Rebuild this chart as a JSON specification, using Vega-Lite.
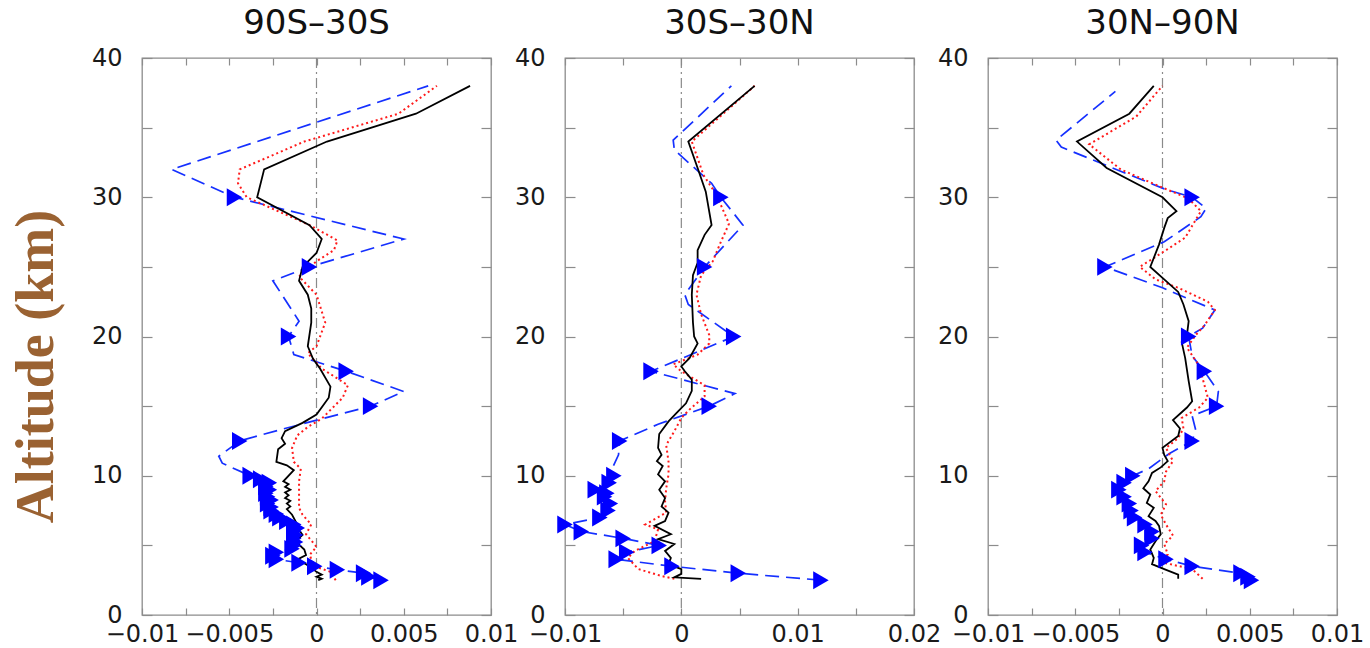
{
"$schema": "https://vega.github.io/schema/vega-lite/v6.json",
"padding": {"left": 8, "top": 6, "right": 5, "bottom": 5},
"spacing": 74,
"bounds": "flush",
"resolve": {"scale": {"x": "independent"}},
"config": {
  "view": {"stroke": "#8c8c8c", "strokeWidth": 1.3},
  "axis": {"domain": false, "grid": false, "tickColor": "#8c8c8c", "tickWidth": 1.2, "labelFont": "DejaVu Sans", "labelFontSize": 24, "labelColor": "#1a1a1a", "labelFlush": false, "labelOverlap": false, "labelBound": false},
  "title": {"font": "DejaVu Sans", "fontSize": 34, "fontWeight": "normal", "color": "#111111", "offset": 5, "anchor": "middle"}
},
"datasets": {
"d": [
{"p":1,"s":"k","a":38,"v":0.0088},{"p":1,"s":"k","a":36,"v":0.0057},{"p":1,"s":"k","a":34,"v":0.0006},{"p":1,"s":"k","a":32,"v":-0.003},{"p":1,"s":"k","a":30,"v":-0.0034},{"p":1,"s":"k","a":28,"v":-0.0004},{"p":1,"s":"k","a":27,"v":0.0003},{"p":1,"s":"k","a":26,"v":0.0},{"p":1,"s":"k","a":25,"v":-0.0008},{"p":1,"s":"k","a":24,"v":-0.001},{"p":1,"s":"k","a":23,"v":-0.0005},{"p":1,"s":"k","a":22,"v":-0.0003},{"p":1,"s":"k","a":21,"v":-0.0003},{"p":1,"s":"k","a":19.3,"v":-0.0005},{"p":1,"s":"k","a":18.4,"v":-0.0002},{"p":1,"s":"k","a":17.7,"v":0.0002},{"p":1,"s":"k","a":16.4,"v":0.0008},{"p":1,"s":"k","a":15.6,"v":0.0007},{"p":1,"s":"k","a":14.4,"v":0.0},{"p":1,"s":"k","a":13.8,"v":-0.0008},{"p":1,"s":"k","a":13.2,"v":-0.0018},{"p":1,"s":"k","a":12.7,"v":-0.002},{"p":1,"s":"k","a":12.3,"v":-0.0018},{"p":1,"s":"k","a":11.9,"v":-0.0022},{"p":1,"s":"k","a":11.0,"v":-0.0023},{"p":1,"s":"k","a":10.75,"v":-0.0017},{"p":1,"s":"k","a":10.4,"v":-0.0013},{"p":1,"s":"k","a":9.6,"v":-0.0019},{"p":1,"s":"k","a":9.4,"v":-0.0016},{"p":1,"s":"k","a":9.2,"v":-0.0018},{"p":1,"s":"k","a":9.0,"v":-0.0015},{"p":1,"s":"k","a":8.8,"v":-0.0018},{"p":1,"s":"k","a":8.6,"v":-0.0016},{"p":1,"s":"k","a":8.4,"v":-0.0018},{"p":1,"s":"k","a":8.2,"v":-0.0015},{"p":1,"s":"k","a":8.0,"v":-0.0017},{"p":1,"s":"k","a":7.8,"v":-0.0015},{"p":1,"s":"k","a":7.6,"v":-0.0017},{"p":1,"s":"k","a":7.2,"v":-0.0014},{"p":1,"s":"k","a":6.5,"v":-0.0011},{"p":1,"s":"k","a":6.1,"v":-0.001},{"p":1,"s":"k","a":5.76,"v":-0.0008},{"p":1,"s":"k","a":5.4,"v":-0.0011},{"p":1,"s":"k","a":5.05,"v":-0.001},{"p":1,"s":"k","a":4.7,"v":-0.0007},{"p":1,"s":"k","a":4.3,"v":-0.0006},{"p":1,"s":"k","a":4.05,"v":-0.001},{"p":1,"s":"k","a":3.85,"v":-0.0009},{"p":1,"s":"k","a":3.5,"v":-0.0004},{"p":1,"s":"k","a":3.1,"v":0.0},{"p":1,"s":"k","a":2.9,"v":0.0003},{"p":1,"s":"k","a":2.75,"v":0.0},{"p":1,"s":"k","a":2.6,"v":0.0003},{"p":1,"s":"k","a":2.5,"v":0.0001},
{"p":1,"s":"r","a":38,"v":0.0069},{"p":1,"s":"r","a":36,"v":0.0047},{"p":1,"s":"r","a":34,"v":-0.0007},{"p":1,"s":"r","a":32,"v":-0.0044},{"p":1,"s":"r","a":31,"v":-0.0045},{"p":1,"s":"r","a":30,"v":-0.004},{"p":1,"s":"r","a":28,"v":-0.0004},{"p":1,"s":"r","a":26.9,"v":0.0012},{"p":1,"s":"r","a":26.2,"v":0.001},{"p":1,"s":"r","a":25.4,"v":0.0},{"p":1,"s":"r","a":24.3,"v":-0.001},{"p":1,"s":"r","a":23,"v":0.0},{"p":1,"s":"r","a":21,"v":0.0005},{"p":1,"s":"r","a":19.3,"v":0.0},{"p":1,"s":"r","a":18.8,"v":-0.0005},{"p":1,"s":"r","a":17.7,"v":0.0003},{"p":1,"s":"r","a":16.5,"v":0.0018},{"p":1,"s":"r","a":15.6,"v":0.0015},{"p":1,"s":"r","a":14.1,"v":0.0003},{"p":1,"s":"r","a":13.5,"v":-0.0005},{"p":1,"s":"r","a":12.9,"v":-0.0011},{"p":1,"s":"r","a":12,"v":-0.0014},{"p":1,"s":"r","a":11,"v":-0.0013},{"p":1,"s":"r","a":10.5,"v":-0.0009},{"p":1,"s":"r","a":9.6,"v":-0.001},{"p":1,"s":"r","a":8.6,"v":-0.001},{"p":1,"s":"r","a":7.7,"v":-0.001},{"p":1,"s":"r","a":7.2,"v":-0.0008},{"p":1,"s":"r","a":6.5,"v":-0.0003},{"p":1,"s":"r","a":5.8,"v":-0.0006},{"p":1,"s":"r","a":4.9,"v":0.0},{"p":1,"s":"r","a":4.3,"v":-0.0004},{"p":1,"s":"r","a":3.5,"v":-0.0001},{"p":1,"s":"r","a":3.1,"v":0.0008},{"p":1,"s":"r","a":2.5,"v":0.0011},
{"p":1,"s":"b","a":38,"v":0.0064},{"p":1,"s":"b","a":32,"v":-0.0083},{"p":1,"s":"b","a":30,"v":-0.0047},{"p":1,"s":"b","a":27,"v":0.005},{"p":1,"s":"b","a":25,"v":-0.0004},{"p":1,"s":"b","a":24,"v":-0.0025},{"p":1,"s":"b","a":21.1,"v":-0.001},{"p":1,"s":"b","a":20,"v":-0.0016},{"p":1,"s":"b","a":18.7,"v":-0.0013},{"p":1,"s":"b","a":17.5,"v":0.0017},{"p":1,"s":"b","a":16.05,"v":0.005},{"p":1,"s":"b","a":15,"v":0.0031},{"p":1,"s":"b","a":13.3,"v":-0.0021},{"p":1,"s":"b","a":12.5,"v":-0.0044},{"p":1,"s":"b","a":11.4,"v":-0.0056},{"p":1,"s":"b","a":10.9,"v":-0.0054},{"p":1,"s":"b","a":10,"v":-0.0038},{"p":1,"s":"b","a":9.75,"v":-0.0032},{"p":1,"s":"b","a":9.5,"v":-0.0027},{"p":1,"s":"b","a":9.25,"v":-0.0029},{"p":1,"s":"b","a":9.0,"v":-0.0027},{"p":1,"s":"b","a":8.75,"v":-0.0029},{"p":1,"s":"b","a":8.5,"v":-0.0028},{"p":1,"s":"b","a":8.25,"v":-0.0026},{"p":1,"s":"b","a":8.0,"v":-0.0028},{"p":1,"s":"b","a":7.75,"v":-0.0026},{"p":1,"s":"b","a":7.5,"v":-0.0026},{"p":1,"s":"b","a":7.25,"v":-0.0023},{"p":1,"s":"b","a":7.0,"v":-0.0021},{"p":1,"s":"b","a":6.75,"v":-0.0017},{"p":1,"s":"b","a":6.5,"v":-0.0013},{"p":1,"s":"b","a":6.25,"v":-0.0011},{"p":1,"s":"b","a":6.0,"v":-0.0013},{"p":1,"s":"b","a":5.75,"v":-0.0012},{"p":1,"s":"b","a":5.5,"v":-0.0013},{"p":1,"s":"b","a":5.25,"v":-0.0012},{"p":1,"s":"b","a":5.0,"v":-0.0013},{"p":1,"s":"b","a":4.75,"v":-0.0014},{"p":1,"s":"b","a":4.5,"v":-0.0023},{"p":1,"s":"b","a":4.25,"v":-0.0025},{"p":1,"s":"b","a":4.0,"v":-0.0023},{"p":1,"s":"b","a":3.75,"v":-0.001},{"p":1,"s":"b","a":3.5,"v":-0.0001},{"p":1,"s":"b","a":3.25,"v":0.0012},{"p":1,"s":"b","a":3.0,"v":0.0027},{"p":1,"s":"b","a":2.75,"v":0.003},{"p":1,"s":"b","a":2.5,"v":0.0037},
{"p":2,"s":"k","a":38,"v":0.0063},{"p":2,"s":"k","a":34,"v":0.0006},{"p":2,"s":"k","a":32.1,"v":0.0014},{"p":2,"s":"k","a":30.4,"v":0.0021},{"p":2,"s":"k","a":28,"v":0.0026},{"p":2,"s":"k","a":27.3,"v":0.002},{"p":2,"s":"k","a":26.2,"v":0.0014},{"p":2,"s":"k","a":25.3,"v":0.0014},{"p":2,"s":"k","a":24.4,"v":0.001},{"p":2,"s":"k","a":23,"v":0.0009},{"p":2,"s":"k","a":21,"v":0.001},{"p":2,"s":"k","a":20,"v":0.0011},{"p":2,"s":"k","a":19.5,"v":0.0014},{"p":2,"s":"k","a":18.45,"v":0.0007},{"p":2,"s":"k","a":17.85,"v":0.0},{"p":2,"s":"k","a":17.5,"v":0.0003},{"p":2,"s":"k","a":16.9,"v":0.0009},{"p":2,"s":"k","a":16.1,"v":0.0009},{"p":2,"s":"k","a":15.2,"v":0.0004},{"p":2,"s":"k","a":14.6,"v":-0.0003},{"p":2,"s":"k","a":13.9,"v":-0.0011},{"p":2,"s":"k","a":13,"v":-0.0019},{"p":2,"s":"k","a":12,"v":-0.002},{"p":2,"s":"k","a":11.5,"v":-0.0017},{"p":2,"s":"k","a":11.05,"v":-0.0021},{"p":2,"s":"k","a":10.7,"v":-0.0016},{"p":2,"s":"k","a":10.1,"v":-0.002},{"p":2,"s":"k","a":9.6,"v":-0.0014},{"p":2,"s":"k","a":9.0,"v":-0.0019},{"p":2,"s":"k","a":8.4,"v":-0.0014},{"p":2,"s":"k","a":7.8,"v":-0.0017},{"p":2,"s":"k","a":7.35,"v":-0.0011},{"p":2,"s":"k","a":6.75,"v":-0.0014},{"p":2,"s":"k","a":6.4,"v":-0.0023},{"p":2,"s":"k","a":5.8,"v":-0.0009},{"p":2,"s":"k","a":5.45,"v":-0.002},{"p":2,"s":"k","a":5.1,"v":-0.0006},{"p":2,"s":"k","a":4.6,"v":-0.0014},{"p":2,"s":"k","a":4.1,"v":-0.0009},{"p":2,"s":"k","a":3.65,"v":-0.0011},{"p":2,"s":"k","a":3.3,"v":0.0},{"p":2,"s":"k","a":2.95,"v":0.0},{"p":2,"s":"k","a":2.7,"v":-0.0006},{"p":2,"s":"k","a":2.6,"v":0.0017},
{"p":2,"s":"r","a":38,"v":0.0063},{"p":2,"s":"r","a":34,"v":0.0009},{"p":2,"s":"r","a":31.6,"v":0.0019},{"p":2,"s":"r","a":30.2,"v":0.003},{"p":2,"s":"r","a":28.1,"v":0.0041},{"p":2,"s":"r","a":26.8,"v":0.0034},{"p":2,"s":"r","a":25.4,"v":0.0027},{"p":2,"s":"r","a":24.4,"v":0.0017},{"p":2,"s":"r","a":23,"v":0.0013},{"p":2,"s":"r","a":21.6,"v":0.0017},{"p":2,"s":"r","a":20.1,"v":0.0024},{"p":2,"s":"r","a":19.5,"v":0.0024},{"p":2,"s":"r","a":18.7,"v":0.0014},{"p":2,"s":"r","a":18,"v":-0.0007},{"p":2,"s":"r","a":17.5,"v":0.0},{"p":2,"s":"r","a":16.5,"v":0.002},{"p":2,"s":"r","a":15.7,"v":0.002},{"p":2,"s":"r","a":14.75,"v":0.0007},{"p":2,"s":"r","a":14.15,"v":0.0},{"p":2,"s":"r","a":13.2,"v":-0.0006},{"p":2,"s":"r","a":12.2,"v":-0.0013},{"p":2,"s":"r","a":11,"v":-0.0011},{"p":2,"s":"r","a":10.1,"v":-0.0011},{"p":2,"s":"r","a":9.1,"v":-0.0013},{"p":2,"s":"r","a":8.2,"v":-0.0014},{"p":2,"s":"r","a":7.35,"v":-0.0013},{"p":2,"s":"r","a":6.5,"v":-0.0031},{"p":2,"s":"r","a":6.15,"v":-0.002},{"p":2,"s":"r","a":5.3,"v":-0.0023},{"p":2,"s":"r","a":4.6,"v":-0.004},{"p":2,"s":"r","a":4.1,"v":-0.0046},{"p":2,"s":"r","a":3.3,"v":-0.0037},{"p":2,"s":"r","a":2.8,"v":-0.0017},{"p":2,"s":"r","a":2.6,"v":-0.0006},
{"p":2,"s":"b","a":38,"v":0.0043},{"p":2,"s":"b","a":34.1,"v":-0.0007},{"p":2,"s":"b","a":33.4,"v":-0.0006},{"p":2,"s":"b","a":31,"v":0.0026},{"p":2,"s":"b","a":30,"v":0.0034},{"p":2,"s":"b","a":28,"v":0.0053},{"p":2,"s":"b","a":25,"v":0.002},{"p":2,"s":"b","a":23,"v":0.0003},{"p":2,"s":"b","a":22.3,"v":0.0006},{"p":2,"s":"b","a":20,"v":0.0045},{"p":2,"s":"b","a":18.8,"v":0.0011},{"p":2,"s":"b","a":17.5,"v":-0.0026},{"p":2,"s":"b","a":15.9,"v":0.0046},{"p":2,"s":"b","a":15,"v":0.0024},{"p":2,"s":"b","a":13.7,"v":-0.002},{"p":2,"s":"b","a":12.5,"v":-0.0053},{"p":2,"s":"b","a":11.5,"v":-0.0054},{"p":2,"s":"b","a":10.6,"v":-0.0059},{"p":2,"s":"b","a":10,"v":-0.0058},{"p":2,"s":"b","a":9.5,"v":-0.0062},{"p":2,"s":"b","a":9.0,"v":-0.0074},{"p":2,"s":"b","a":8.75,"v":-0.0064},{"p":2,"s":"b","a":8.5,"v":-0.0066},{"p":2,"s":"b","a":8.0,"v":-0.0061},{"p":2,"s":"b","a":7.5,"v":-0.0063},{"p":2,"s":"b","a":7.0,"v":-0.007},{"p":2,"s":"b","a":6.5,"v":-0.01},{"p":2,"s":"b","a":6.0,"v":-0.0086},{"p":2,"s":"b","a":5.5,"v":-0.005},{"p":2,"s":"b","a":5.0,"v":-0.0019},{"p":2,"s":"b","a":4.5,"v":-0.0047},{"p":2,"s":"b","a":4.0,"v":-0.0056},{"p":2,"s":"b","a":3.5,"v":-0.0008},{"p":2,"s":"b","a":3.0,"v":0.0049},{"p":2,"s":"b","a":2.5,"v":0.012},
{"p":3,"s":"k","a":38,"v":-0.0005},{"p":3,"s":"k","a":36,"v":-0.0019},{"p":3,"s":"k","a":34,"v":-0.0049},{"p":3,"s":"k","a":32.1,"v":-0.0032},{"p":3,"s":"k","a":30,"v":0.0},{"p":3,"s":"k","a":29,"v":0.0008},{"p":3,"s":"k","a":28.5,"v":0.0003},{"p":3,"s":"k","a":27.8,"v":0.0001},{"p":3,"s":"k","a":26.6,"v":-0.0002},{"p":3,"s":"k","a":25,"v":-0.0007},{"p":3,"s":"k","a":23.2,"v":0.0009},{"p":3,"s":"k","a":22.3,"v":0.0012},{"p":3,"s":"k","a":21.1,"v":0.0015},{"p":3,"s":"k","a":20.1,"v":0.0014},{"p":3,"s":"k","a":19.6,"v":0.0011},{"p":3,"s":"k","a":18.45,"v":0.0013},{"p":3,"s":"k","a":16.8,"v":0.0015},{"p":3,"s":"k","a":15.35,"v":0.0017},{"p":3,"s":"k","a":14.9,"v":0.0014},{"p":3,"s":"k","a":14.0,"v":0.0006},{"p":3,"s":"k","a":13.4,"v":0.001},{"p":3,"s":"k","a":12.85,"v":0.0009},{"p":3,"s":"k","a":12.0,"v":0.0},{"p":3,"s":"k","a":11.5,"v":0.0001},{"p":3,"s":"k","a":11.05,"v":0.0003},{"p":3,"s":"k","a":10.6,"v":-0.0001},{"p":3,"s":"k","a":10.2,"v":-0.0006},{"p":3,"s":"k","a":9.6,"v":-0.0008},{"p":3,"s":"k","a":9.1,"v":-0.0011},{"p":3,"s":"k","a":8.65,"v":-0.0007},{"p":3,"s":"k","a":8.05,"v":-0.0009},{"p":3,"s":"k","a":7.7,"v":-0.0005},{"p":3,"s":"k","a":7.1,"v":-0.0008},{"p":3,"s":"k","a":6.75,"v":-0.0004},{"p":3,"s":"k","a":6.4,"v":-0.0002},{"p":3,"s":"k","a":5.8,"v":-0.0001},{"p":3,"s":"k","a":5.3,"v":-0.0004},{"p":3,"s":"k","a":4.7,"v":-0.0007},{"p":3,"s":"k","a":4.1,"v":-0.0005},{"p":3,"s":"k","a":3.65,"v":-0.0006},{"p":3,"s":"k","a":3.3,"v":0.0001},{"p":3,"s":"k","a":2.9,"v":0.0009},{"p":3,"s":"k","a":2.6,"v":0.0009},
{"p":3,"s":"r","a":38,"v":0.0},{"p":3,"s":"r","a":35.8,"v":-0.0015},{"p":3,"s":"r","a":33.8,"v":-0.0042},{"p":3,"s":"r","a":32,"v":-0.0024},{"p":3,"s":"r","a":30.8,"v":-0.0002},{"p":3,"s":"r","a":29.9,"v":0.0015},{"p":3,"s":"r","a":29,"v":0.0022},{"p":3,"s":"r","a":27.1,"v":0.0013},{"p":3,"s":"r","a":26.2,"v":0.0002},{"p":3,"s":"r","a":25,"v":-0.0013},{"p":3,"s":"r","a":24.1,"v":-0.0004},{"p":3,"s":"r","a":23.5,"v":0.0009},{"p":3,"s":"r","a":22.5,"v":0.0026},{"p":3,"s":"r","a":21.9,"v":0.003},{"p":3,"s":"r","a":20.8,"v":0.0024},{"p":3,"s":"r","a":20.1,"v":0.0019},{"p":3,"s":"r","a":19.2,"v":0.0014},{"p":3,"s":"r","a":17.9,"v":0.0021},{"p":3,"s":"r","a":15.6,"v":0.0026},{"p":3,"s":"r","a":14.9,"v":0.0021},{"p":3,"s":"r","a":14.15,"v":0.0011},{"p":3,"s":"r","a":13.4,"v":0.0012},{"p":3,"s":"r","a":12.7,"v":0.0009},{"p":3,"s":"r","a":12,"v":0.0002},{"p":3,"s":"r","a":11.05,"v":0.0006},{"p":3,"s":"r","a":10.3,"v":0.0002},{"p":3,"s":"r","a":9.6,"v":0.0001},{"p":3,"s":"r","a":8.9,"v":-0.0004},{"p":3,"s":"r","a":7.95,"v":0.0002},{"p":3,"s":"r","a":7.2,"v":-0.0001},{"p":3,"s":"r","a":6.5,"v":0.0002},{"p":3,"s":"r","a":5.7,"v":0.0006},{"p":3,"s":"r","a":5.1,"v":0.0001},{"p":3,"s":"r","a":4.35,"v":0.0003},{"p":3,"s":"r","a":3.8,"v":-0.0001},{"p":3,"s":"r","a":3.3,"v":0.0017},{"p":3,"s":"r","a":2.6,"v":0.0023},
{"p":3,"s":"b","a":37.6,"v":-0.0027},{"p":3,"s":"b","a":34.1,"v":-0.0061},{"p":3,"s":"b","a":33.6,"v":-0.0058},{"p":3,"s":"b","a":30.6,"v":0.0001},{"p":3,"s":"b","a":30,"v":0.0017},{"p":3,"s":"b","a":29.2,"v":0.0025},{"p":3,"s":"b","a":28.6,"v":0.0022},{"p":3,"s":"b","a":26.8,"v":0.0001},{"p":3,"s":"b","a":25,"v":-0.0033},{"p":3,"s":"b","a":23.5,"v":0.0},{"p":3,"s":"b","a":21.9,"v":0.003},{"p":3,"s":"b","a":20.6,"v":0.0023},{"p":3,"s":"b","a":20,"v":0.0015},{"p":3,"s":"b","a":18.6,"v":0.0017},{"p":3,"s":"b","a":17.5,"v":0.0024},{"p":3,"s":"b","a":16.05,"v":0.0032},{"p":3,"s":"b","a":15,"v":0.0031},{"p":3,"s":"b","a":14.3,"v":0.0017},{"p":3,"s":"b","a":13.3,"v":0.0019},{"p":3,"s":"b","a":12.5,"v":0.0017},{"p":3,"s":"b","a":11.6,"v":0.0004},{"p":3,"s":"b","a":10.5,"v":-0.0008},{"p":3,"s":"b","a":10,"v":-0.0017},{"p":3,"s":"b","a":9.5,"v":-0.0022},{"p":3,"s":"b","a":9.0,"v":-0.0025},{"p":3,"s":"b","a":8.5,"v":-0.0022},{"p":3,"s":"b","a":8.0,"v":-0.0019},{"p":3,"s":"b","a":7.5,"v":-0.0018},{"p":3,"s":"b","a":7.0,"v":-0.0016},{"p":3,"s":"b","a":6.5,"v":-0.001},{"p":3,"s":"b","a":6.0,"v":-0.0006},{"p":3,"s":"b","a":5.5,"v":-0.0006},{"p":3,"s":"b","a":5.0,"v":-0.0012},{"p":3,"s":"b","a":4.5,"v":-0.001},{"p":3,"s":"b","a":4.0,"v":0.0002},{"p":3,"s":"b","a":3.5,"v":0.0017},{"p":3,"s":"b","a":3.0,"v":0.0045},{"p":3,"s":"b","a":2.75,"v":0.0049},{"p":3,"s":"b","a":2.5,"v":0.0051}
]
},
"hconcat": [
{
  "width": 349, "height": 557,
  "title": {"text": "90S–30S"},
  "resolve": {"axis": {"x": "independent", "y": "independent"}},
  "layer": [
    {"data": {"values": [{"z": 0}]}, "mark": {"type": "rule", "color": "#8a8a8a", "strokeDash": [10, 4, 2, 4], "strokeWidth": 1.2},
     "encoding": {"x": {"field": "z", "type": "quantitative", "scale": {"domain": [-0.01, 0.01], "nice": false, "zero": false}, "axis": null}}},
    {"data": {"name": "d"}, "transform": [{"filter": "datum.p == 1 && datum.s == 'b'"}],
     "mark": {"type": "line", "color": "#1530ff", "strokeDash": [14, 7], "strokeWidth": 1.7},
     "encoding": {
       "x": {"field": "v", "type": "quantitative", "scale": {"domain": [-0.01, 0.01], "nice": false, "zero": false},
             "axis": {"orient": "bottom", "title": null, "values": [-0.01, -0.0075, -0.005, -0.0025, 0, 0.0025, 0.005, 0.0075, 0.01], "tickSize": -7, "labelPadding": 14,
                      "labelExpr": "abs(datum.value) < 1e-9 ? '0' : abs(datum.value) > 0.009 ? (datum.value < 0 ? '−0.01' : '0.01') : abs(abs(datum.value) - 0.005) < 1e-9 ? (datum.value < 0 ? '−0.005' : '0.005') : ''"}},
       "y": {"field": "a", "type": "quantitative", "scale": {"domain": [0, 40], "nice": false, "zero": false},
             "axis": {"orient": "left", "values": [0, 5, 10, 15, 20, 25, 30, 35, 40], "tickSize": -10, "labelPadding": 30,
                      "labelExpr": "datum.value % 10 == 0 ? datum.label : ''",
                      "title": "Altitude (km)", "titleFont": "Liberation Serif", "titleFontSize": 54, "titleFontWeight": "bold", "titleColor": "#9a6232",
                      "titleAngle": 270, "titleAlign": "center", "titleBaseline": "alphabetic", "titleX": -90, "titleY": 308}},
       "order": {"field": "a", "type": "quantitative"}}},
    {"data": {"name": "d"}, "transform": [{"filter": "datum.p == 1 && datum.s == 'r'"}],
     "mark": {"type": "line", "color": "#ff1a1a", "strokeDash": [2, 3], "strokeWidth": 2},
     "encoding": {"x": {"field": "v", "type": "quantitative", "axis": null}, "y": {"field": "a", "type": "quantitative", "axis": null}, "order": {"field": "a", "type": "quantitative"}}},
    {"data": {"name": "d"}, "transform": [{"filter": "datum.p == 1 && datum.s == 'k'"}],
     "mark": {"type": "line", "color": "#000000", "strokeWidth": 1.8},
     "encoding": {"x": {"field": "v", "type": "quantitative", "axis": null}, "y": {"field": "a", "type": "quantitative", "axis": null}, "order": {"field": "a", "type": "quantitative"}}},
    {"data": {"name": "d"}, "transform": [{"filter": "datum.p == 1 && datum.s == 'b' && (datum.a <= 10 || (datum.a <= 30 && datum.a % 2.5 == 0 && datum.a != 22.5 && datum.a != 27.5))"}],
     "mark": {"type": "point", "shape": "triangle-right", "filled": true, "color": "#0000ff", "size": 320, "opacity": 1},
     "encoding": {"x": {"field": "v", "type": "quantitative", "axis": null}, "y": {"field": "a", "type": "quantitative", "axis": null}}},
    {"data": {"name": "d"}, "transform": [{"filter": "datum.p == 1"}],
     "mark": {"type": "point", "opacity": 0},
     "encoding": {
       "x": {"field": "v", "type": "quantitative", "axis": {"orient": "top", "title": null, "labels": false, "tickSize": -7, "values": [-0.01, -0.0075, -0.005, -0.0025, 0, 0.0025, 0.005, 0.0075, 0.01]}},
       "y": {"field": "a", "type": "quantitative", "axis": {"orient": "right", "title": null, "labels": false, "tickSize": -10, "values": [0, 5, 10, 15, 20, 25, 30, 35, 40]}}}}
  ]
},
{
  "width": 349, "height": 557,
  "title": {"text": "30S–30N"},
  "resolve": {"axis": {"x": "independent", "y": "independent"}},
  "layer": [
    {"data": {"values": [{"z": 0}]}, "mark": {"type": "rule", "color": "#8a8a8a", "strokeDash": [10, 4, 2, 4], "strokeWidth": 1.2},
     "encoding": {"x": {"field": "z", "type": "quantitative", "scale": {"domain": [-0.01, 0.02], "nice": false, "zero": false}, "axis": null}}},
    {"data": {"name": "d"}, "transform": [{"filter": "datum.p == 2 && datum.s == 'b'"}],
     "mark": {"type": "line", "color": "#1530ff", "strokeDash": [14, 7], "strokeWidth": 1.7},
     "encoding": {
       "x": {"field": "v", "type": "quantitative", "scale": {"domain": [-0.01, 0.02], "nice": false, "zero": false},
             "axis": {"orient": "bottom", "title": null, "values": [-0.01, -0.005, 0, 0.005, 0.01, 0.015, 0.02], "tickSize": -7, "labelPadding": 14,
                      "labelExpr": "abs(datum.value) < 1e-9 ? '0' : abs(datum.value + 0.01) < 1e-9 ? '−0.01' : abs(datum.value - 0.01) < 1e-9 ? '0.01' : abs(datum.value - 0.02) < 1e-9 ? '0.02' : ''"}},
       "y": {"field": "a", "type": "quantitative", "scale": {"domain": [0, 40], "nice": false, "zero": false},
             "axis": {"orient": "left", "values": [0, 5, 10, 15, 20, 25, 30, 35, 40], "tickSize": -10, "labelPadding": 30, "title": null,
                      "labelExpr": "datum.value % 10 == 0 ? datum.label : ''"}},
       "order": {"field": "a", "type": "quantitative"}}},
    {"data": {"name": "d"}, "transform": [{"filter": "datum.p == 2 && datum.s == 'r'"}],
     "mark": {"type": "line", "color": "#ff1a1a", "strokeDash": [2, 3], "strokeWidth": 2},
     "encoding": {"x": {"field": "v", "type": "quantitative", "axis": null}, "y": {"field": "a", "type": "quantitative", "axis": null}, "order": {"field": "a", "type": "quantitative"}}},
    {"data": {"name": "d"}, "transform": [{"filter": "datum.p == 2 && datum.s == 'k'"}],
     "mark": {"type": "line", "color": "#000000", "strokeWidth": 1.8},
     "encoding": {"x": {"field": "v", "type": "quantitative", "axis": null}, "y": {"field": "a", "type": "quantitative", "axis": null}, "order": {"field": "a", "type": "quantitative"}}},
    {"data": {"name": "d"}, "transform": [{"filter": "datum.p == 2 && datum.s == 'b' && (datum.a <= 10 || (datum.a <= 30 && datum.a % 2.5 == 0 && datum.a != 22.5 && datum.a != 27.5))"}],
     "mark": {"type": "point", "shape": "triangle-right", "filled": true, "color": "#0000ff", "size": 320, "opacity": 1},
     "encoding": {"x": {"field": "v", "type": "quantitative", "axis": null}, "y": {"field": "a", "type": "quantitative", "axis": null}}},
    {"data": {"name": "d"}, "transform": [{"filter": "datum.p == 2"}],
     "mark": {"type": "point", "opacity": 0},
     "encoding": {
       "x": {"field": "v", "type": "quantitative", "axis": {"orient": "top", "title": null, "labels": false, "tickSize": -7, "values": [-0.01, -0.005, 0, 0.005, 0.01, 0.015, 0.02]}},
       "y": {"field": "a", "type": "quantitative", "axis": {"orient": "right", "title": null, "labels": false, "tickSize": -10, "values": [0, 5, 10, 15, 20, 25, 30, 35, 40]}}}}
  ]
},
{
  "width": 349, "height": 557,
  "title": {"text": "30N–90N"},
  "resolve": {"axis": {"x": "independent", "y": "independent"}},
  "layer": [
    {"data": {"values": [{"z": 0}]}, "mark": {"type": "rule", "color": "#8a8a8a", "strokeDash": [10, 4, 2, 4], "strokeWidth": 1.2},
     "encoding": {"x": {"field": "z", "type": "quantitative", "scale": {"domain": [-0.01, 0.01], "nice": false, "zero": false}, "axis": null}}},
    {"data": {"name": "d"}, "transform": [{"filter": "datum.p == 3 && datum.s == 'b'"}],
     "mark": {"type": "line", "color": "#1530ff", "strokeDash": [14, 7], "strokeWidth": 1.7},
     "encoding": {
       "x": {"field": "v", "type": "quantitative", "scale": {"domain": [-0.01, 0.01], "nice": false, "zero": false},
             "axis": {"orient": "bottom", "title": null, "values": [-0.01, -0.0075, -0.005, -0.0025, 0, 0.0025, 0.005, 0.0075, 0.01], "tickSize": -7, "labelPadding": 14,
                      "labelExpr": "abs(datum.value) < 1e-9 ? '0' : abs(datum.value) > 0.009 ? (datum.value < 0 ? '−0.01' : '0.01') : abs(abs(datum.value) - 0.005) < 1e-9 ? (datum.value < 0 ? '−0.005' : '0.005') : ''"}},
       "y": {"field": "a", "type": "quantitative", "scale": {"domain": [0, 40], "nice": false, "zero": false},
             "axis": {"orient": "left", "values": [0, 5, 10, 15, 20, 25, 30, 35, 40], "tickSize": -10, "labelPadding": 30, "title": null,
                      "labelExpr": "datum.value % 10 == 0 ? datum.label : ''"}},
       "order": {"field": "a", "type": "quantitative"}}},
    {"data": {"name": "d"}, "transform": [{"filter": "datum.p == 3 && datum.s == 'r'"}],
     "mark": {"type": "line", "color": "#ff1a1a", "strokeDash": [2, 3], "strokeWidth": 2},
     "encoding": {"x": {"field": "v", "type": "quantitative", "axis": null}, "y": {"field": "a", "type": "quantitative", "axis": null}, "order": {"field": "a", "type": "quantitative"}}},
    {"data": {"name": "d"}, "transform": [{"filter": "datum.p == 3 && datum.s == 'k'"}],
     "mark": {"type": "line", "color": "#000000", "strokeWidth": 1.8},
     "encoding": {"x": {"field": "v", "type": "quantitative", "axis": null}, "y": {"field": "a", "type": "quantitative", "axis": null}, "order": {"field": "a", "type": "quantitative"}}},
    {"data": {"name": "d"}, "transform": [{"filter": "datum.p == 3 && datum.s == 'b' && (datum.a <= 10 || (datum.a <= 30 && datum.a % 2.5 == 0 && datum.a != 22.5 && datum.a != 27.5))"}],
     "mark": {"type": "point", "shape": "triangle-right", "filled": true, "color": "#0000ff", "size": 320, "opacity": 1},
     "encoding": {"x": {"field": "v", "type": "quantitative", "axis": null}, "y": {"field": "a", "type": "quantitative", "axis": null}}},
    {"data": {"name": "d"}, "transform": [{"filter": "datum.p == 3"}],
     "mark": {"type": "point", "opacity": 0},
     "encoding": {
       "x": {"field": "v", "type": "quantitative", "axis": {"orient": "top", "title": null, "labels": false, "tickSize": -7, "values": [-0.01, -0.0075, -0.005, -0.0025, 0, 0.0025, 0.005, 0.0075, 0.01]}},
       "y": {"field": "a", "type": "quantitative", "axis": {"orient": "right", "title": null, "labels": false, "tickSize": -10, "values": [0, 5, 10, 15, 20, 25, 30, 35, 40]}}}}
  ]
}
]
}
